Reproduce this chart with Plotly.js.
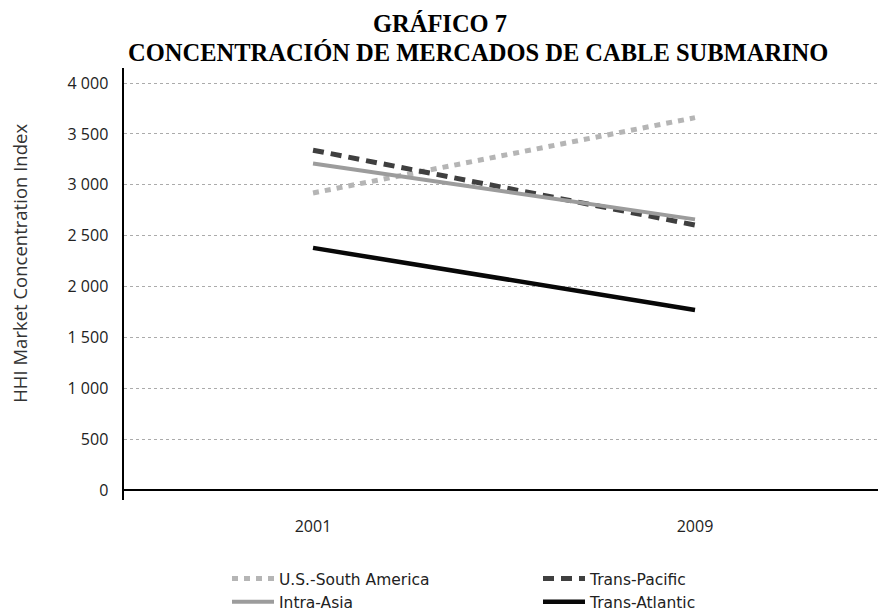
<!DOCTYPE html>
<html>
<head>
<meta charset="utf-8">
<script src="https://cdn.plot.ly/plotly-3.0.1.min.js"></script>
<style>html,body{margin:0;padding:0;background:#fff;}#chart{width:878px;height:611px;}</style>
</head>
<body>
<div id="chart"></div>
<script>
var years = ["2001", "2009"];
var seriesNames = ["U.S.-South America", "Trans-Pacific", "Intra-Asia", "Trans-Atlantic"];
var usSouthAmerica = [2920, 3660];
var transPacific = [3340, 2605];
var intraAsia = [3210, 2660];
var transAtlantic = [2380, 1770];
var yTickVals = [0, 500, 1000, 1500, 2000, 2500, 3000, 3500, 4000];
var yTickText = ["0", "500", "1 000", "1 500", "2 000", "2 500", "3 000", "3 500", "4 000"];

var styles = [
  {color: "#b5b5b5", width: 5, dash: "6px,6px"},
  {color: "#3f3f3f", width: 5, dash: "11px,7px"},
  {color: "#9c9c9c", width: 4, dash: "solid"},
  {color: "#080808", width: 4.5, dash: "solid"}
];
var values = [usSouthAmerica, transPacific, intraAsia, transAtlantic];

var traces = seriesNames.map(function (name, i) {
  return {
    type: "scatter", mode: "lines", name: name,
    x: years, y: values[i],
    line: styles[i],
    hoverinfo: "skip"
  };
});

var layout = {
  width: 878, height: 611,
  paper_bgcolor: "#ffffff", plot_bgcolor: "#ffffff",
  margin: {l: 124, r: 0, t: 68, b: 110.5},
  showlegend: true,
  title: {
    text: "GRÁFICO 7",
    font: {family: "Liberation Serif", size: 24.5, color: "#000", weight: "bold"},
    x: 440 / 878, xanchor: "center", xref: "container",
    y: 1 - 32 / 611, yref: "container", yanchor: "bottom"
  },
  annotations: [{
    text: "<b>CONCENTRACIÓN DE MERCADOS DE CABLE SUBMARINO</b>",
    xref: "paper", yref: "paper", x: (478 - 124) / 754, y: 1, xanchor: "center", yanchor: "bottom",
    showarrow: false,
    font: {family: "Liberation Serif", size: 24.5, color: "#000"}
  }, {
    text: "HHI Market Concentration Index",
    xref: "paper", yref: "paper", x: (20 - 124) / 754, y: (500.5 - 264) / 432.5,
    xanchor: "center", yanchor: "middle", textangle: -90,
    showarrow: false,
    font: {family: "Open Sans", size: 18.5, color: "#333"}
  }],
  xaxis: {
    type: "category",
    range: [-0.4948, 1.479],
    showgrid: false, zeroline: false, showline: false,
    ticks: "outside", ticklen: 12, tickcolor: "rgba(0,0,0,0)",
    tickfont: {family: "Open Sans", size: 16, color: "#222"},
    fixedrange: true
  },
  yaxis: {
    range: [-98, 4148],
    tickvals: yTickVals, ticktext: yTickText,
    showgrid: true, gridcolor: "#ababab", gridwidth: 1, griddash: "dot",
    zeroline: true, zerolinecolor: "#000", zerolinewidth: 2.5,
    showline: true, linecolor: "#000", linewidth: 2.5,
    ticks: "outside", ticklen: 10, tickcolor: "rgba(0,0,0,0)",
    tickfont: {family: "Open Sans", size: 16, color: "#222"},
    fixedrange: true
  },
  legend: {
    orientation: "h",
    x: 227 / 878, xref: "container", xanchor: "left",
    y: 1 - 562 / 611, yref: "container", yanchor: "top",
    entrywidth: 254, entrywidthmode: "pixels", itemwidth: 42,
    font: {family: "DejaVu Sans", size: 15.5, color: "#222"},
    bgcolor: "rgba(0,0,0,0)", tracegroupgap: 0
  }
};

Plotly.newPlot("chart", traces, layout, {displayModeBar: false, staticPlot: true});
</script>
</body>
</html>
